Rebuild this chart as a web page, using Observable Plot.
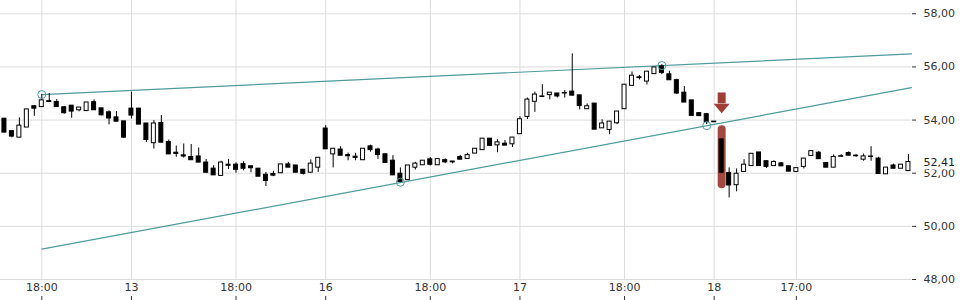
<!DOCTYPE html>
<html><head><meta charset="utf-8">
<script src="https://cdn.jsdelivr.net/npm/d3@7"></script>
<script src="https://cdn.jsdelivr.net/npm/@observablehq/plot@0.6"></script>
<style>html,body{margin:0;padding:0;background:#fff;} #chart svg{display:block;}</style>
</head><body><div id="chart"></div>
<script>
const opens = [54.04,53.57,53.35,53.73,54.51,54.50,54.70,54.67,54.47,54.53, 54.38,54.35,54.66,54.43,54.28,54.09,53.94,54.42,54.42,53.86, 53.14,53.88,53.16,52.76,52.66,52.60,52.62,52.39,52.16,51.91, 52.31,52.31,52.33,52.25,52.16,51.93,51.96,52.01,52.32,52.28, 52.12,52.03,52.22,53.67,52.72,52.88,52.67,52.61,52.50,53.00, 52.88,52.70,52.46,51.97,51.75,52.22,52.31,52.51,52.31,52.48, 52.43,52.60,52.55,52.75,52.88,53.29,53.06,53.10,53.10,53.48, 54.13,54.70,54.88,54.95,54.99,55.01,55.06,54.92,54.42,54.61, 53.70,53.64,53.89,54.42,55.30,55.59,55.46,55.74,56.01,55.71, 55.49,55.02,54.73,54.25,54.21,53.93,53.26,52.00,51.56,52.06, 52.28,52.77,52.44,52.28,52.36,52.25,52.06,52.25,52.66,52.76, 52.37,52.22,52.63,52.75,52.65,52.52,52.62,52.54,51.97,52.28, 52.18,52.09];
const highs = [54.06,53.60,54.08,54.40,54.53,54.96,55.00,54.77,54.51,54.55, 54.47,54.66,54.76,54.44,54.35,54.32,53.95,55.05,54.43,53.87, 53.98,54.17,53.25,53.02,53.10,53.08,52.95,52.52,52.28,52.45, 52.52,52.39,52.43,52.26,52.17,52.03,52.07,52.33,52.41,52.29, 52.13,52.50,52.58,53.79,52.92,53.00,52.76,52.75,52.92,53.06, 52.94,52.72,52.66,52.20,52.29,52.41,52.47,52.59,52.53,52.54, 52.43,52.67,52.75,52.92,53.30,53.30,53.26,53.23,53.34,54.13, 54.83,55.05,55.33,55.03,55.00,55.11,56.49,54.93,54.61,54.62, 54.01,53.94,54.32,55.33,55.81,55.68,55.82,55.98,56.09,55.84, 55.54,55.26,54.74,54.28,54.25,53.93,53.30,52.20,52.16,52.51, 52.73,52.78,52.47,52.47,52.40,52.26,52.19,52.55,52.83,52.82, 52.38,52.69,52.70,52.80,52.70,52.72,53.00,52.60,52.21,52.34, 52.32,52.70];
const lows = [53.52,53.33,53.33,53.72,54.14,54.48,54.69,54.49,54.22,54.07, 54.31,54.34,54.37,54.16,53.82,53.94,53.31,54.04,53.83,53.16, 52.91,53.15,52.71,52.60,52.57,52.49,52.40,52.00,51.92,51.90, 52.14,52.00,52.09,52.02,51.87,51.50,51.87,52.00,52.21,52.02, 51.93,52.02,52.03,52.90,52.20,52.66,52.47,52.47,52.49,52.79, 52.52,52.39,51.92,51.66,51.74,52.12,52.30,52.27,52.30,52.36, 52.35,52.52,52.54,52.74,52.87,53.03,52.77,53.04,52.97,53.47, 54.02,54.29,54.87,54.76,54.83,54.83,54.92,54.38,54.41,53.64, 53.69,53.45,53.83,54.41,55.29,55.51,55.32,55.73,55.71,55.50, 54.96,54.66,54.16,54.13,53.83,53.93,51.98,51.07,51.30,52.05, 52.27,52.27,52.18,52.27,52.25,52.06,52.05,52.16,52.65,52.53, 52.21,52.21,52.60,52.66,52.60,52.45,52.45,51.97,51.96,52.16, 52.17,52.08];
const closes = [53.54,53.39,53.78,54.39,54.44,54.73,54.69,54.50,54.27,54.33, 54.46,54.65,54.38,54.19,54.07,53.95,53.35,54.18,53.84,53.26, 53.86,53.16,52.72,52.74,52.64,52.50,52.41,52.03,51.93,52.39, 52.29,52.14,52.18,52.20,51.88,51.72,51.92,52.32,52.22,52.03, 51.99,52.35,52.57,52.91,52.91,52.67,52.65,52.59,52.91,52.88, 52.70,52.40,51.93,51.68,52.28,52.35,52.46,52.33,52.52,52.42, 52.42,52.52,52.67,52.91,53.29,53.04,53.15,53.05,53.33,54.02, 54.76,54.95,54.88,55.02,54.90,55.01,54.93,54.54,54.51,53.65, 53.86,53.93,54.31,55.32,55.66,55.60,55.81,55.97,55.78,55.51, 55.01,54.67,54.17,54.16,53.94,53.93,52.03,51.55,51.97,52.31, 52.72,52.28,52.25,52.41,52.27,52.07,52.18,52.54,52.82,52.54, 52.22,52.60,52.63,52.67,52.65,52.62,52.62,51.98,52.20,52.18, 52.31,52.41];

const xTickIdx = [5, 17, 31, 43, 57, 69, 83, 95, 106];
const xTickLabels = ["18:00", "13", "18:00", "16", "18:00", "17", "18:00", "18", "17:00"];
const yTicks = [48, 50, 52, 54, 56, 58];
const lastPrice = [52.41];

const upperTrend = [{i: 5, v: 54.96}, {i: 121.4, v: 56.49}];
const lowerTrend = [{i: 5, v: 49.14}, {i: 121.4, v: 55.22}];
const touchPoints = [{i: 5, v: 54.96}, {i: 53, v: 51.66}, {i: 88, v: 56.05}, {i: 94, v: 53.79}];
const breakBar = [{i: 96, top: 53.64, bottom: 51.57}];
const breakArrow = [{i: 96, top: 55.02, base: 54.61}];

const candles = opens.map((o, i) => ({i, open: o, high: highs[i], low: lows[i], close: closes[i]}));
const fmt = d => d.toFixed(2).replace(".", ",");
const TEAL = "#4f9b9d";
const RED = "#9e3e37";

const arrowHead = {
  draw(ctx) {
    ctx.moveTo(-8, 0);
    ctx.lineTo(8, 0);
    ctx.lineTo(0, 9.4);
    ctx.closePath();
  }
};

const chart = Plot.plot({
  width: 960, height: 300,
  marginLeft: 0, marginRight: 49, marginTop: 0, marginBottom: 21,
  style: {fontFamily: "'DejaVu Sans', sans-serif", fontSize: "11px", color: "#333", background: "white"},
  x: {type: "linear", domain: [-0.527, 121.41]},
  y: {domain: [48, 58.5]},
  marks: [
    Plot.gridY({ticks: yTicks, stroke: "#dcdcdc", strokeOpacity: 1}),
    Plot.gridX({ticks: xTickIdx, stroke: "#dcdcdc", strokeOpacity: 1}),
    Plot.axisY({anchor: "right", ticks: yTicks, tickSize: 4, tickPadding: 8, tickFormat: fmt, label: null, stroke: "#333", fill: "#333"}),
    Plot.axisX({ticks: xTickIdx, tickSize: 0, tickPadding: 4, tickFormat: d => xTickLabels[xTickIdx.indexOf(d)], label: null, fill: "#333"}),
    Plot.axisX({ticks: xTickIdx, tickSize: 4, tickFormat: () => "", dy: 17, label: null, stroke: "#333"}),
    Plot.line(upperTrend, {x: "i", y: "v", stroke: TEAL, strokeWidth: 1.2}),
    Plot.line(lowerTrend, {x: "i", y: "v", stroke: TEAL, strokeWidth: 1.2}),
    Plot.ruleX(breakBar, {x: "i", y1: "bottom", y2: "top", stroke: RED, strokeWidth: 8, strokeLinecap: "round", strokeOpacity: 0.95}),
    Plot.ruleX(breakArrow, {x: "i", y1: "base", y2: "top", stroke: RED, strokeWidth: 8}),
    Plot.dot(breakArrow, {x: "i", y: "base", symbol: arrowHead, r: 4, fill: RED, stroke: null}),
    Plot.ruleX(candles, {x: "i", y1: "low", y2: "high", stroke: "black", strokeWidth: 1}),
    Plot.rect(candles, {
      x1: d => d.i - 0.5, x2: d => d.i + 0.5, y1: "open", y2: "close",
      insetLeft: 1.73, insetRight: 1.73, insetTop: -0.3, insetBottom: -0.3,
      fill: d => d.close < d.open ? "black" : "white", stroke: "black", strokeWidth: 1
    }),
    Plot.dot(touchPoints, {x: "i", y: "v", r: 4, stroke: TEAL, fill: "none", strokeWidth: 1}),
    Plot.text(lastPrice, {y: d => d, frameAnchor: "right", dx: 12, textAnchor: "start", text: fmt, fill: "#222", stroke: "white", strokeWidth: 7, fontSize: 11})
  ]
});
document.getElementById("chart").appendChild(chart);
</script></body></html>
